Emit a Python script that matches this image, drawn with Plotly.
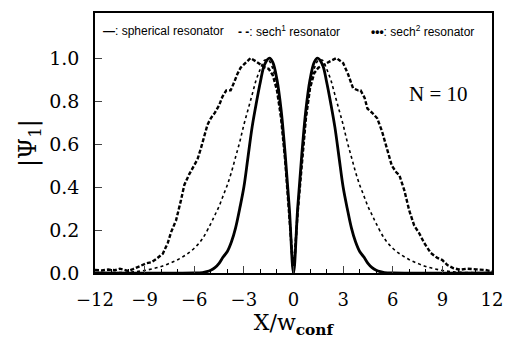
import plotly.graph_objects as go

# spherical resonator (solid)
sph_x = [-12, -6.0, -5.5, -5.25, -5.0, -4.75, -4.5, -4.25, -4.0, -3.75, -3.5, -3.25, -3.0, -2.75, -2.5, -2.25, -2.0, -1.75, -1.45, -1.25, -1.0, -0.75, -0.5, -0.25, 0,
         0.25, 0.5, 0.75, 1.0, 1.25, 1.45, 1.75, 2.0, 2.25, 2.5, 2.75, 3.0, 3.25, 3.5, 3.75, 4.0, 4.25, 4.5, 4.75, 5.0, 5.25, 5.5, 6.0, 12]
sph_y = [0, 0, 0.002, 0.006, 0.013, 0.025, 0.045, 0.075, 0.10, 0.145, 0.21, 0.30, 0.40, 0.54, 0.68, 0.79, 0.89, 0.97, 1.0, 0.98, 0.90, 0.76, 0.55, 0.30, 0,
         0.30, 0.55, 0.76, 0.90, 0.98, 1.0, 0.97, 0.89, 0.79, 0.68, 0.54, 0.40, 0.30, 0.21, 0.145, 0.10, 0.075, 0.045, 0.025, 0.013, 0.006, 0.002, 0, 0]

# sech^2 resonator (dotted)
s2_x = [-12, -11, -10, -9.5, -9.0, -8.5, -8.0, -7.5, -7.0, -6.5, -6.0, -5.5, -5.0, -4.75, -4.5, -4.25, -4.0, -3.75, -3.5, -3.25, -3.0, -2.75, -2.5, -2.25, -2.0, -1.75, -1.5, -1.25, -1.0, -0.75, -0.5, -0.25, 0,
        0.25, 0.5, 0.75, 1.0, 1.25, 1.5, 1.75, 2.0, 2.25, 2.5, 2.75, 3.0, 3.25, 3.5, 3.75, 4.0, 4.25, 4.5, 4.75, 5.0, 5.5, 6.0, 6.5, 7.0, 7.5, 8.0, 8.5, 9.0, 9.5, 10, 11, 12]
s2_y = [0, 0.001, 0.004, 0.007, 0.012, 0.02, 0.03, 0.045, 0.062, 0.085, 0.115, 0.16, 0.23, 0.27, 0.31, 0.36, 0.41, 0.47, 0.54, 0.61, 0.69, 0.76, 0.83, 0.90, 0.95, 0.99, 0.99, 0.95, 0.86, 0.72, 0.52, 0.28, 0,
        0.28, 0.52, 0.72, 0.86, 0.95, 0.99, 0.99, 0.95, 0.90, 0.83, 0.76, 0.69, 0.61, 0.54, 0.47, 0.41, 0.36, 0.31, 0.27, 0.23, 0.16, 0.115, 0.085, 0.062, 0.045, 0.03, 0.02, 0.012, 0.007, 0.004, 0.001, 0]

# sech^1 resonator (dashed)
s1_x = [-12.0, -11.6, -11.2, -10.8, -10.5, -10.2, -10.0, -9.7, -9.5, -9.2, -8.9, -8.6, -8.3, -7.9, -7.6, -7.4, -7.1, -6.8, -6.6, -6.3, -6.0, -5.8, -5.6, -5.4, -5.2, -5.0, -4.76, -4.5, -4.3, -4.06, -3.8, -3.6, -3.4, -3.2, -2.9, -2.6, -2.3, -2.0, -1.7, -1.5, -1.25, -1.0, -0.75, -0.5, -0.25, 0,
        0.25, 0.5, 0.75, 1.0, 1.25, 1.5, 1.82, 2.2, 2.6, 3.0, 3.3, 3.6, 3.9, 4.06, 4.3, 4.47, 4.76, 5.06, 5.35, 5.65, 5.94, 6.2, 6.4, 6.7, 7.0, 7.3, 7.6, 7.9, 8.3, 8.7, 9.0, 9.3, 9.65, 10.06, 10.5, 11.06, 11.6, 12.0]
s1_y = [0.014, 0.012, 0.016, 0.013, 0.020, 0.014, 0.010, 0.018, 0.025, 0.032, 0.045, 0.050, 0.065, 0.090, 0.14, 0.19, 0.245, 0.34, 0.41, 0.46, 0.50, 0.53, 0.58, 0.64, 0.69, 0.72, 0.745, 0.78, 0.82, 0.85, 0.85, 0.885, 0.925, 0.955, 0.977, 1.0, 0.986, 0.97, 0.955, 0.95, 0.92, 0.85, 0.72, 0.52, 0.28, 0,
        0.28, 0.52, 0.72, 0.86, 0.93, 0.955, 0.97, 0.985, 1.0, 0.977, 0.925, 0.86, 0.85, 0.85, 0.815, 0.765, 0.745, 0.72, 0.66, 0.58, 0.50, 0.47, 0.455, 0.385, 0.29, 0.22, 0.185, 0.14, 0.093, 0.07, 0.06, 0.037, 0.023, 0.015, 0.02, 0.017, 0.014, 0.008]

x_ticks = [-12, -9, -6, -3, 0, 3, 6, 9, 12]
x_tick_labels = ["\u221212", "\u22129", "\u22126", "\u22123", "0", "3", "6", "9", "12"]
y_ticks = [0.0, 0.2, 0.4, 0.6, 0.8, 1.0]
y_tick_labels = ["0.0", "0.2", "0.4", "0.6", "0.8", "1.0"]

serif = "DejaVu Serif"
fig = go.Figure()
fig.add_trace(go.Scatter(x=s2_x, y=s2_y, mode="lines", line=dict(color="black", width=1.6, dash="dot", shape="spline"), name="sech2"))
fig.add_trace(go.Scatter(x=s1_x, y=s1_y, mode="lines", line=dict(color="black", width=2.4, dash="4px,2px"), name="sech1"))
fig.add_trace(go.Scatter(x=sph_x, y=sph_y, mode="lines", line=dict(color="black", width=2.8, shape="spline"), name="spherical"))

fig.update_layout(
    width=514, height=348,
    margin=dict(l=95, r=11, t=12, b=75),
    paper_bgcolor="white", plot_bgcolor="white",
    showlegend=False,
    font=dict(family=serif, color="black"),
)
fig.update_xaxes(range=[-12, 12], tickvals=x_ticks, ticktext=x_tick_labels, ticks="inside", ticklen=7,
                 tickwidth=1.2, showline=True, linecolor="black", linewidth=1.5, mirror=True, showgrid=False,
                 zeroline=False, tickfont=dict(family=serif, size=18), ticklabelstandoff=10,
                 minor=dict(dtick=1, ticks="inside", ticklen=4, tickcolor="black", tickwidth=1),
                 title=dict(text="X/w<sub><b>conf</b></sub>", font=dict(family=serif, size=22), standoff=4))
fig.update_yaxes(range=[0, 1.21], tickvals=y_ticks, ticktext=y_tick_labels, ticks="inside", ticklen=7,
                 tickwidth=1.2, showline=True, linecolor="black", linewidth=1.5, mirror=True, showgrid=False,
                 zeroline=False, tickfont=dict(family=serif, size=19), ticklabelstandoff=10,
                 title=dict(text="|\u03a8<sub>1</sub>|", font=dict(family=serif, size=24), standoff=6))

leg_font = dict(family="Liberation Sans", size=12, color="black")
fig.add_annotation(xref="paper", yref="paper", x=0.015, y=0.93, xanchor="left", yanchor="middle", showarrow=False,
                   text="<b>\u2014</b>: spherical resonator", font=leg_font)
fig.add_annotation(xref="paper", yref="paper", x=0.355, y=0.93, xanchor="left", yanchor="middle", showarrow=False,
                   text="<b>- -</b>: sech<sup>1</sup> resonator", font=leg_font)
fig.add_annotation(xref="paper", yref="paper", x=0.69, y=0.93, xanchor="left", yanchor="middle", showarrow=False,
                   text="<b>\u2022\u2022\u2022</b>: sech<sup>2</sup> resonator", font=leg_font)
fig.add_annotation(xref="paper", yref="paper", x=0.865, y=0.69, xanchor="center", yanchor="middle", showarrow=False,
                   text="N = 10", font=dict(family="Liberation Serif", size=21, color="black"))

fig.write_html("out.html")
